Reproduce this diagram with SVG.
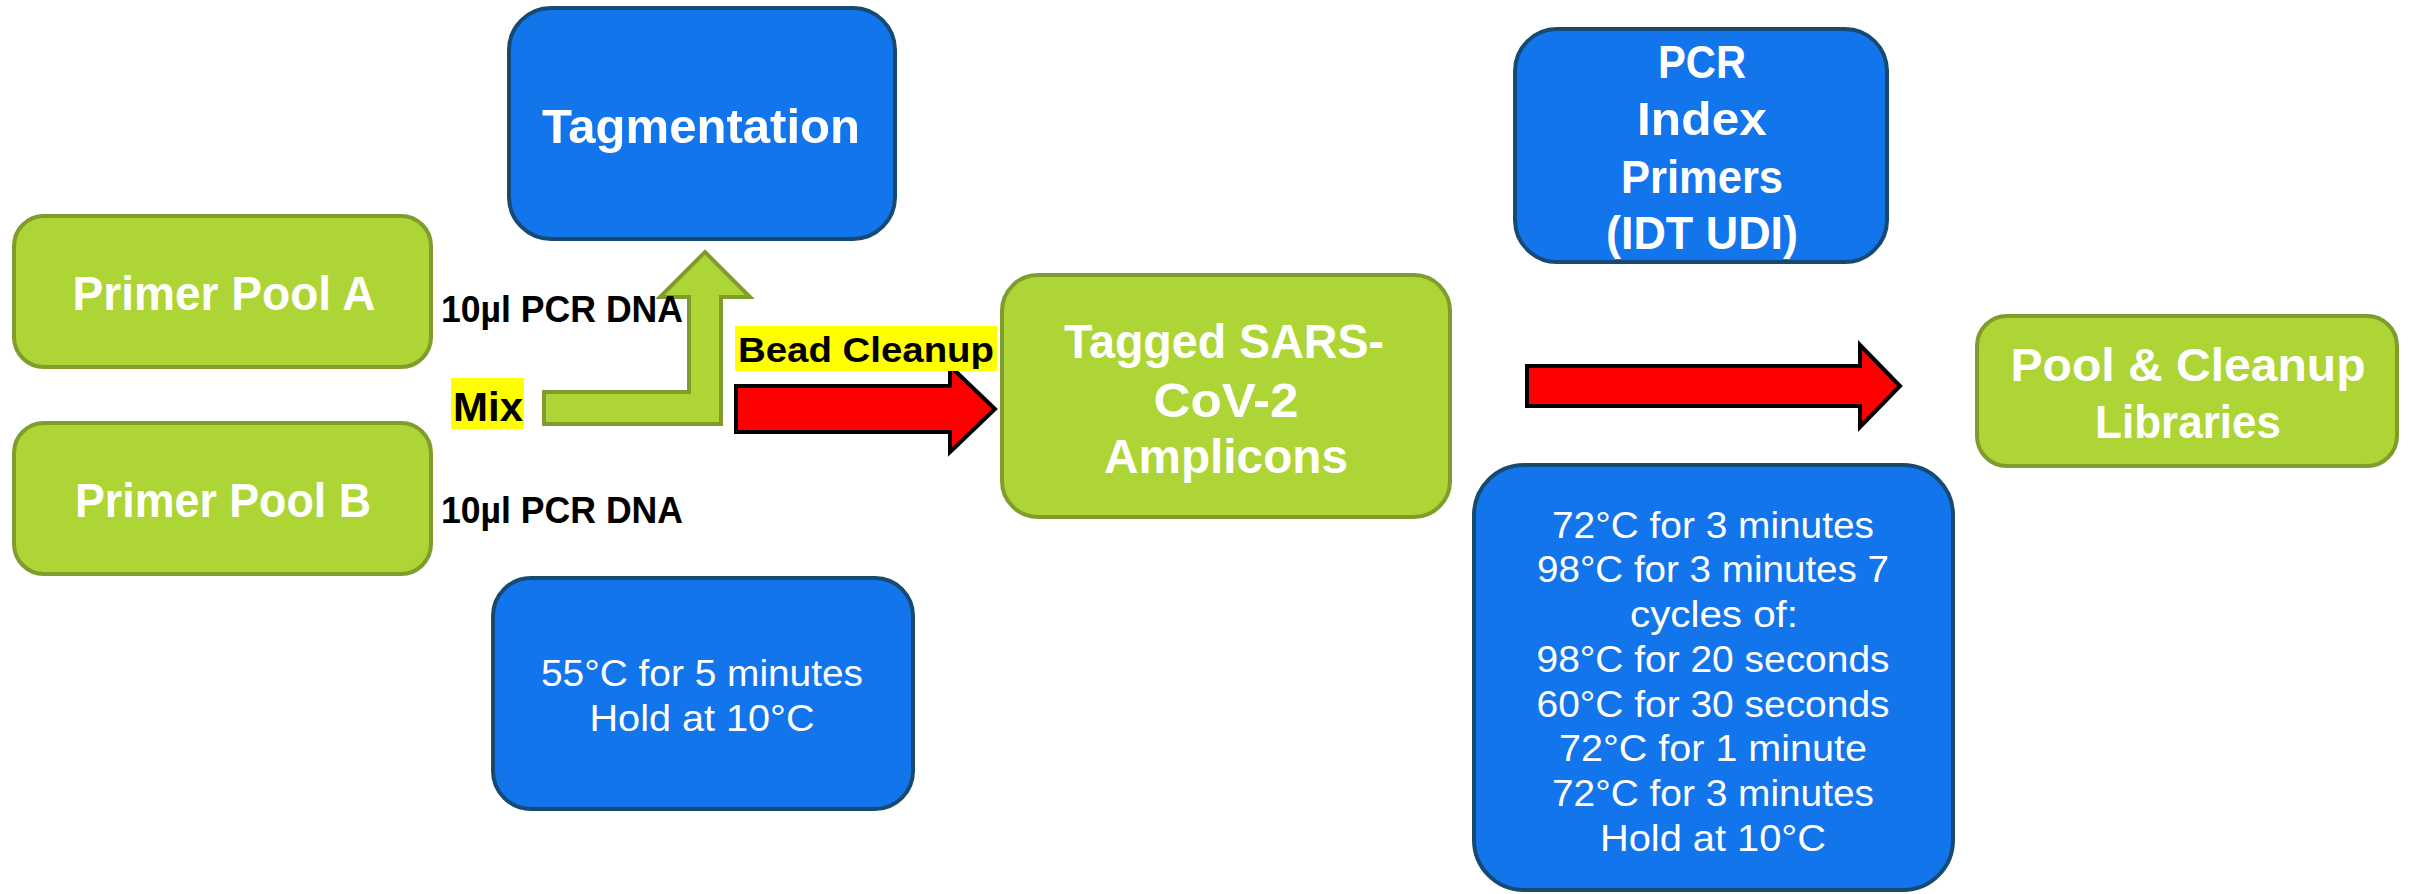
<svg xmlns="http://www.w3.org/2000/svg" width="2413" height="894" viewBox="0 0 2413 894">
<style>
.green{fill:#ADD535;stroke:#7F9C2C;stroke-width:4}
.blue{fill:#1275EC;stroke:#174A72;stroke-width:4}
.hd{font-family:"Liberation Sans",Arial,sans-serif;font-weight:bold;fill:#FFFFFF;text-anchor:middle}
.lt{font-family:"Liberation Sans",Arial,sans-serif;font-weight:normal;fill:#FFFFFF;text-anchor:middle;font-size:37px}
.lbl{font-family:"Liberation Sans",Arial,sans-serif;font-weight:bold;fill:#000000}
.hl{fill:#FFFF00}
.red{fill:#FF0000;stroke:#000000;stroke-width:4;stroke-linejoin:miter}
.garrow{fill:#ADD535;stroke:#7F9C2C;stroke-width:4}
</style>
<rect width="2413" height="894" fill="#FFFFFF"/>

<g id="connectors">
  <polygon class="garrow" points="544,392 689,392 689,297 660,297 705,252 750,297 721,297 721,424 544,424"/>
  <polygon class="red" points="736,386 950,386 950,366 995,409 950,452 950,432 736,432"/>
  <polygon class="red" points="1527,366 1860,366 1860,345 1900,386 1860,427 1860,406 1527,406"/>
</g>

<g id="node-tagmentation">
  <rect class="blue" x="509" y="8" width="386" height="231" rx="42"/>
  <text class="hd" x="701" y="143" font-size="48" textLength="318" lengthAdjust="spacingAndGlyphs">Tagmentation</text>
</g>

<g id="node-primer-pool-a">
  <rect class="green" x="14" y="216" width="417" height="151" rx="30"/>
  <text class="hd" x="224" y="310" font-size="48" textLength="303" lengthAdjust="spacingAndGlyphs">Primer Pool A</text>
</g>

<g id="node-primer-pool-b">
  <rect class="green" x="14" y="423" width="417" height="151" rx="30"/>
  <text class="hd" x="223" y="517" font-size="48" textLength="296" lengthAdjust="spacingAndGlyphs">Primer Pool B</text>
</g>

<g id="label-pcr-dna-a">
  <text class="lbl" x="441" y="322" font-size="37" textLength="242" lengthAdjust="spacingAndGlyphs">10µl PCR DNA</text>
</g>
<g id="label-pcr-dna-b">
  <text class="lbl" x="441" y="523" font-size="37" textLength="242" lengthAdjust="spacingAndGlyphs">10µl PCR DNA</text>
</g>

<g id="label-mix">
  <rect class="hl" x="451" y="378" width="73" height="51"/>
  <text class="lbl" x="453" y="421" font-size="40" textLength="70" lengthAdjust="spacingAndGlyphs">Mix</text>
</g>

<g id="label-bead-cleanup">
  <rect class="hl" x="735" y="326" width="262" height="45"/>
  <text class="lbl" x="738" y="362" font-size="35" textLength="256" lengthAdjust="spacingAndGlyphs">Bead Cleanup</text>
</g>

<g id="node-tagged-amplicons">
  <rect class="green" x="1002" y="275" width="448" height="242" rx="36"/>
  <text class="hd" x="1224" y="358" font-size="48" textLength="320" lengthAdjust="spacingAndGlyphs">Tagged SARS-</text>
  <text class="hd" x="1226" y="417" font-size="48" textLength="145" lengthAdjust="spacingAndGlyphs">CoV-2</text>
  <text class="hd" x="1226" y="473" font-size="48" textLength="244" lengthAdjust="spacingAndGlyphs">Amplicons</text>
</g>

<g id="node-pcr-index-primers">
  <rect class="blue" x="1515" y="29" width="372" height="233" rx="42"/>
  <text class="hd" x="1702" y="78" font-size="47" textLength="88" lengthAdjust="spacingAndGlyphs">PCR</text>
  <text class="hd" x="1702" y="135" font-size="47" textLength="130" lengthAdjust="spacingAndGlyphs">Index</text>
  <text class="hd" x="1702" y="193" font-size="47" textLength="162" lengthAdjust="spacingAndGlyphs">Primers</text>
  <text class="hd" x="1702" y="249" font-size="47" textLength="192" lengthAdjust="spacingAndGlyphs">(IDT UDI)</text>
</g>

<g id="node-pool-cleanup">
  <rect class="green" x="1977" y="316" width="420" height="150" rx="30"/>
  <text class="hd" x="2188" y="381" font-size="47" textLength="355" lengthAdjust="spacingAndGlyphs">Pool &amp; Cleanup</text>
  <text class="hd" x="2188" y="438" font-size="47" textLength="186" lengthAdjust="spacingAndGlyphs">Libraries</text>
</g>

<g id="node-tagmentation-program">
  <rect class="blue" x="493" y="578" width="420" height="231" rx="38"/>
  <text class="lt" x="702" y="686" textLength="322" lengthAdjust="spacingAndGlyphs">55°C for 5 minutes</text>
  <text class="lt" x="702" y="731" textLength="225" lengthAdjust="spacingAndGlyphs">Hold at 10°C</text>
</g>

<g id="node-pcr-program">
  <rect class="blue" x="1474" y="465" width="479" height="425" rx="50"/>
  <text class="lt" x="1713" y="538" textLength="322" lengthAdjust="spacingAndGlyphs">72°C for 3 minutes</text>
  <text class="lt" x="1713" y="582" textLength="352" lengthAdjust="spacingAndGlyphs">98°C for 3 minutes 7</text>
  <text class="lt" x="1714" y="627" textLength="168" lengthAdjust="spacingAndGlyphs">cycles of:</text>
  <text class="lt" x="1713" y="672" textLength="353" lengthAdjust="spacingAndGlyphs">98°C for 20 seconds</text>
  <text class="lt" x="1713" y="717" textLength="353" lengthAdjust="spacingAndGlyphs">60°C for 30 seconds</text>
  <text class="lt" x="1713" y="761" textLength="308" lengthAdjust="spacingAndGlyphs">72°C for 1 minute</text>
  <text class="lt" x="1713" y="806" textLength="322" lengthAdjust="spacingAndGlyphs">72°C for 3 minutes</text>
  <text class="lt" x="1713" y="851" textLength="226" lengthAdjust="spacingAndGlyphs">Hold at 10°C</text>
</g>
</svg>
